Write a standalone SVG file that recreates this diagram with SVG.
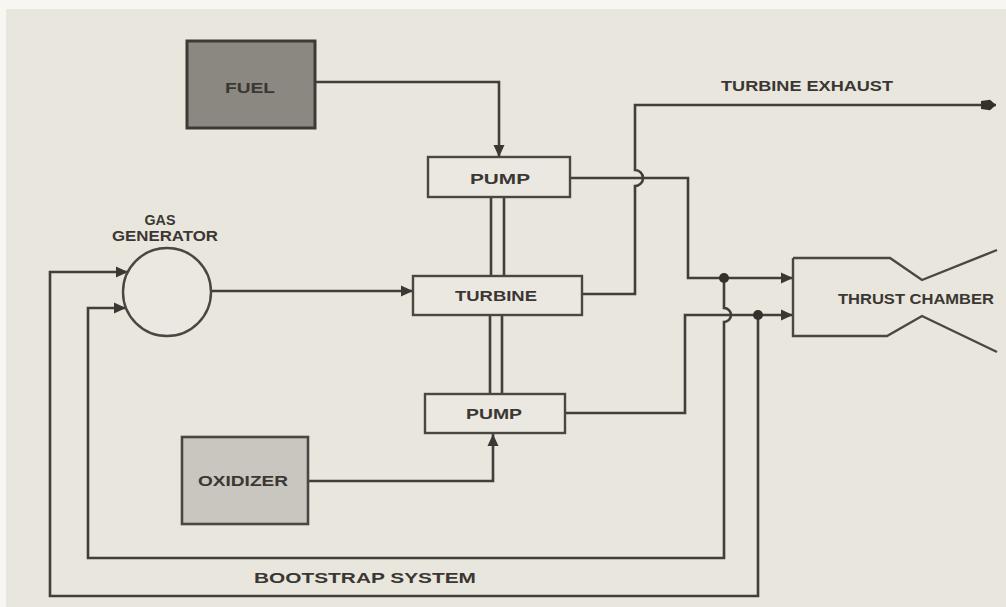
<svg xmlns="http://www.w3.org/2000/svg" width="1006" height="607" viewBox="0 0 1006 607">
<style>
.ln{fill:none;stroke:#423e39;stroke-width:2.6;stroke-linejoin:miter}
.bx{fill:#ebe8e1;stroke:#4a4641;stroke-width:2.4}
.t{font-family:"Liberation Sans",Arial,sans-serif;font-weight:bold;font-size:15px;fill:#3b3733;text-anchor:middle;dominant-baseline:central}
</style>
<defs>
<marker id="ar" markerUnits="userSpaceOnUse" markerWidth="14" markerHeight="12" refX="12" refY="6" orient="auto">
<path d="M0,0.5 L12,6 L0,11.5 Z" fill="#3b3733"/>
</marker>
<marker id="ar2" markerUnits="userSpaceOnUse" markerWidth="16" markerHeight="12" refX="15" refY="6" orient="auto">
<path d="M0,2 L9,0.8 L15,6 L9,11.2 L0,10 Z" fill="#34302c"/>
</marker>
</defs>
<rect x="0" y="0" width="1006" height="607" fill="#f7f6f3"/>
<rect x="6" y="9" width="1000" height="598" fill="#e9e6de"/>

<g id="connectors">
<path class="ln" d="M315,82 H499 V157" marker-end="url(#ar)"/>
<path class="ln" d="M308,481 H493 V434" marker-end="url(#ar)"/>
<path class="ln" d="M211,291 H413" marker-end="url(#ar)"/>
<path class="ln" d="M570,178 H688 V278 H793" marker-end="url(#ar)"/>
<path class="ln" d="M565,413 H685 V315 H793" marker-end="url(#ar)"/>
<path class="ln" d="M582,294 H635 V186 A8,8 0 0 0 635,170 V105 H996" marker-end="url(#ar2)"/>
<path class="ln" d="M724,278 V308 A7,7 0 0 1 724,322 V558 H88 V308 H126" marker-end="url(#ar)"/>
<path class="ln" d="M758,315 V596 H50 V272 H128" marker-end="url(#ar)"/>
<line class="ln" x1="491" y1="197" x2="491" y2="276"/>
<line class="ln" x1="504" y1="197" x2="504" y2="276"/>
<line class="ln" x1="490" y1="315" x2="490" y2="394"/>
<line class="ln" x1="502" y1="315" x2="502" y2="394"/>
<circle cx="724" cy="278" r="5" fill="#34302c"/>
<circle cx="758" cy="315" r="5" fill="#34302c"/>
</g>

<g id="fuel">
<rect x="187" y="41" width="128" height="87" fill="#8b8882" stroke="#3d3a36" stroke-width="3"/>
<text class="t" x="250" y="87" textLength="50" lengthAdjust="spacingAndGlyphs">FUEL</text>
</g>
<g id="oxidizer">
<rect x="182" y="437" width="126" height="87" fill="#c9c6c0" stroke="#4a4641" stroke-width="2.6"/>
<text class="t" x="243" y="480" textLength="90" lengthAdjust="spacingAndGlyphs">OXIDIZER</text>
</g>
<g id="pump-fuel">
<rect class="bx" x="428" y="157" width="142" height="40"/>
<text class="t" x="500" y="178" textLength="60" lengthAdjust="spacingAndGlyphs">PUMP</text>
</g>
<g id="turbine">
<rect class="bx" x="413" y="276" width="169" height="39"/>
<text class="t" x="496" y="295" textLength="82" lengthAdjust="spacingAndGlyphs">TURBINE</text>
</g>
<g id="pump-oxidizer">
<rect class="bx" x="425" y="394" width="140" height="39"/>
<text class="t" x="494" y="413" textLength="56" lengthAdjust="spacingAndGlyphs">PUMP</text>
</g>
<g id="gas-generator">
<circle cx="167" cy="292" r="44" fill="#ebe8e1" stroke="#4a4641" stroke-width="2.4"/>
<text class="t" x="160" y="219" textLength="31" lengthAdjust="spacingAndGlyphs">GAS</text>
<text class="t" x="165" y="235" textLength="106" lengthAdjust="spacingAndGlyphs">GENERATOR</text>
</g>
<g id="thrust-chamber">
<path d="M793,258 H890 L922,280 L997,250 M793,258 V336 H887 L922,316 L997,352" fill="none" stroke="#4a4641" stroke-width="2.4"/>
<text class="t" x="916" y="298" textLength="156" lengthAdjust="spacingAndGlyphs">THRUST CHAMBER</text>
</g>
<g id="labels">
<text class="t" x="807" y="85" textLength="172" lengthAdjust="spacingAndGlyphs">TURBINE EXHAUST</text>
<text class="t" x="365" y="577" textLength="222" lengthAdjust="spacingAndGlyphs">BOOTSTRAP SYSTEM</text>
</g>
</svg>
